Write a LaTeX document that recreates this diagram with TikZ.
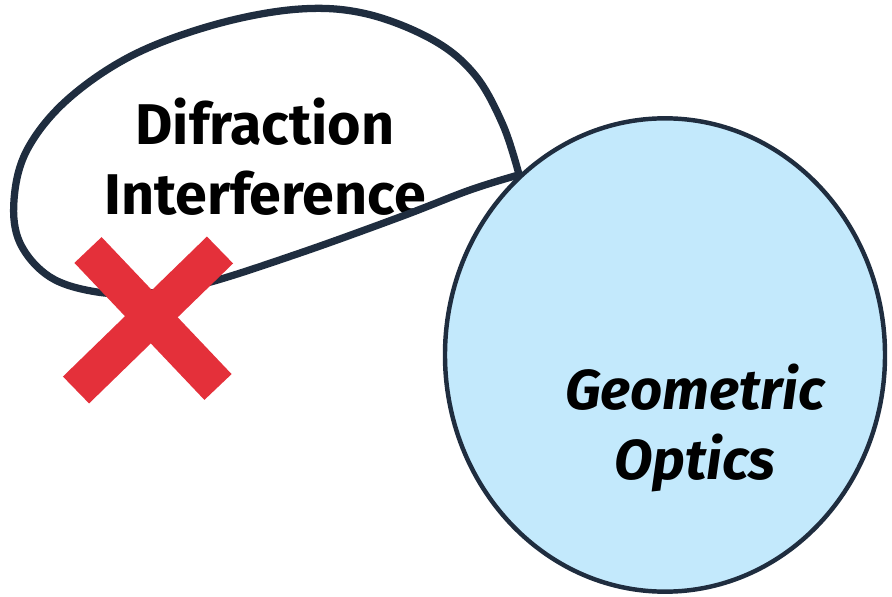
\documentclass[tikz,border=0pt]{standalone}
\usepackage{fontspec}
\setmainfont{Fira Sans}
\usetikzlibrary{shapes.geometric}
\definecolor{ink}{HTML}{1F2D3F}
\definecolor{skyfill}{HTML}{C3E9FC}
\definecolor{crossred}{HTML}{E4303A}
\tikzset{
  region/.style={ellipse,draw=ink,line width=3.8pt,fill=skyfill,inner sep=0pt},
  bubble/.style={draw=ink,line width=6.2pt,line cap=round,line join=round},
  label/.style={align=center,font=\fontsize{49}{60}\selectfont\bfseries,text=black},
  cross/.style={draw=crossred,line width=32pt}
}
\begin{document}
\begin{tikzpicture}[x=0.03cm,y=-0.03cm]
\useasboundingbox (0,0) rectangle (892,597);
\node[region,minimum width=13.2cm,minimum height=14.2cm] (optics) at (665,355) {};
\node[label,font=\fontsize{48}{60}\selectfont\bfseries\itshape] (optlabel) at (695,428) {Geometric\\Optics};
\node[label] (wavelabel) at (265,157) {Difraction\\Interference};
% the loop leaving the circle
\coordinate (joint) at (optics.129);
\draw[bubble] plot[smooth,tension=0.6] coordinates {(joint) (503,125) (475,75) (433,40) (367,14) (300,9) (217,24) (133,55) (67,100) (27,150) (14,200) (20,243) (50,277) (97,292) (150,293) (207,283) (300,253) (400,217) (470,190) (joint)};
% red cross
\coordinate (xa) at (88,250);
\coordinate (xb) at (218,387);
\coordinate (xc) at (220,250);
\coordinate (xd) at (76,390);
\draw[cross] (xa) -- (xb);
\draw[cross] (xc) -- (xd);
\end{tikzpicture}
\end{document}
